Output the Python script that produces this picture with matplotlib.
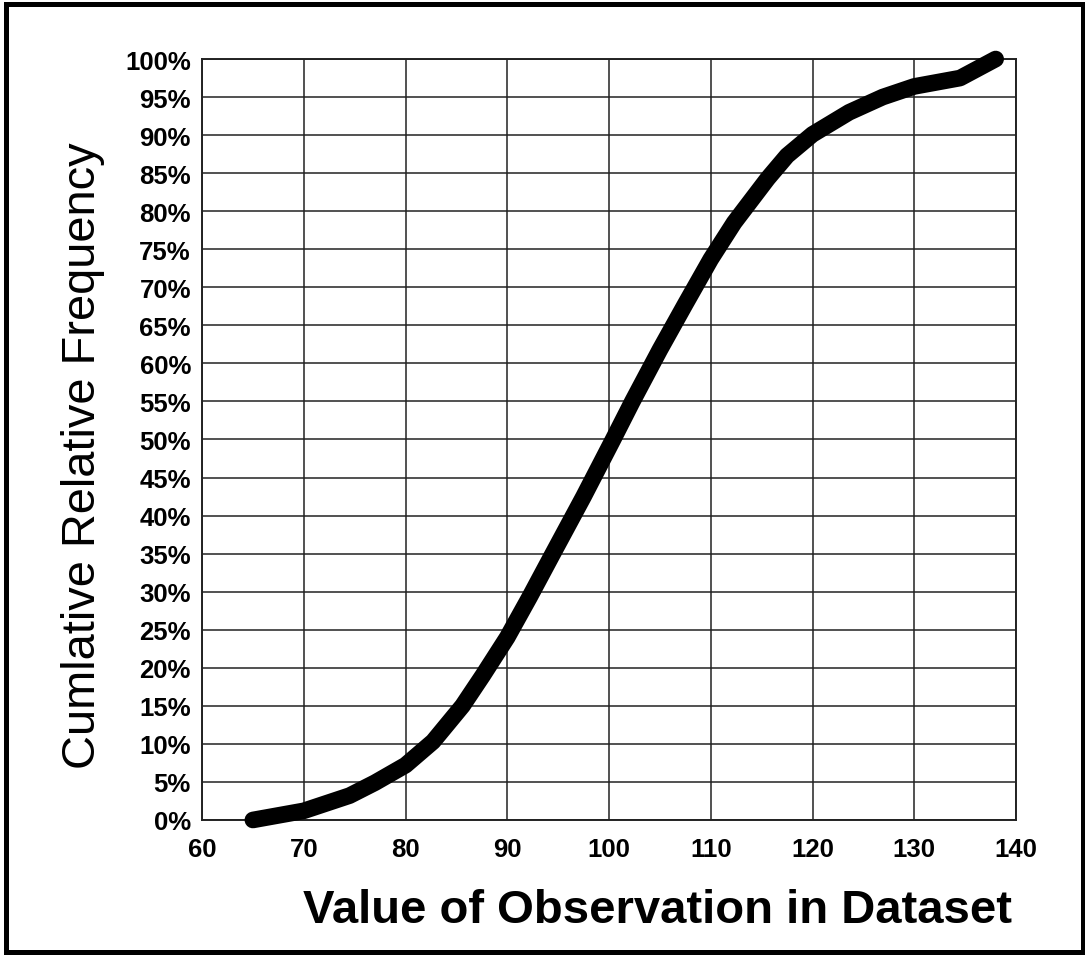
import matplotlib
matplotlib.use("Agg")
import matplotlib.pyplot as plt
from matplotlib.patches import Rectangle
from matplotlib.ticker import FuncFormatter

valeurs = [65, 70, 74.5, 77, 80, 82.7, 85.6, 87.6, 90, 92.2, 94.4, 97.5, 100.4,
           102.3, 105, 107.5, 110, 112.3, 115.6, 117.5, 120, 123.6, 126.9, 130, 134.5, 138]
frequences = [0, 1.2, 3.2, 4.9, 7.2, 10.3, 15, 19, 24, 29.3, 34.8, 42.5, 50,
              55, 61.8, 67.8, 73.7, 78.5, 84.3, 87.3, 90.1, 93, 95, 96.4, 97.5, 100]

x_ticks = list(range(60, 141, 10))
y_ticks = list(range(0, 101, 5))

plt.rcParams['font.family'] = ['Liberation Sans', 'DejaVu Sans']

fig = plt.figure(figsize=(10.85, 9.62), dpi=100)
ax = fig.add_axes([0.1862, 0.1466, 0.7502, 0.791])

# La courbe
ax.plot(valeurs, frequences, color='black', linewidth=12,
        solid_capstyle='round', solid_joinstyle='round', zorder=3, clip_on=False)

ax.set_xlim(60, 140)
ax.set_ylim(0, 100)
ax.set_xticks(x_ticks)
ax.set_yticks(y_ticks)
ax.yaxis.set_major_formatter(FuncFormatter(lambda v, p: f"{int(v)}%"))

ax.grid(True, color='#222222', linewidth=1.1)
ax.set_axisbelow(True)
ax.tick_params(length=0, labelsize=18.5)
ax.tick_params(axis='x', pad=12)
ax.tick_params(axis='y', pad=8)
for lab in ax.get_xticklabels() + ax.get_yticklabels():
    lab.set_fontweight('bold')
for s in ax.spines.values():
    s.set_linewidth(1.4)
    s.set_color('#222222')

ax.set_xlabel("Value of Observation in Dataset", fontsize=34, fontweight='bold')
ax.xaxis.set_label_coords(0.56, -0.089)
ax.set_ylabel("Cumlative Relative Frequency", fontsize=33.8)
ax.yaxis.set_label_coords(-0.119, 0.48)

# Cadre autour de la figure
fig.patches.append(Rectangle((6 / 1085, 9 / 962), 1077 / 1085, 948 / 962,
                             transform=fig.transFigure, fill=False,
                             edgecolor='black', linewidth=3.6))

fig.savefig("out.png", dpi=100)
